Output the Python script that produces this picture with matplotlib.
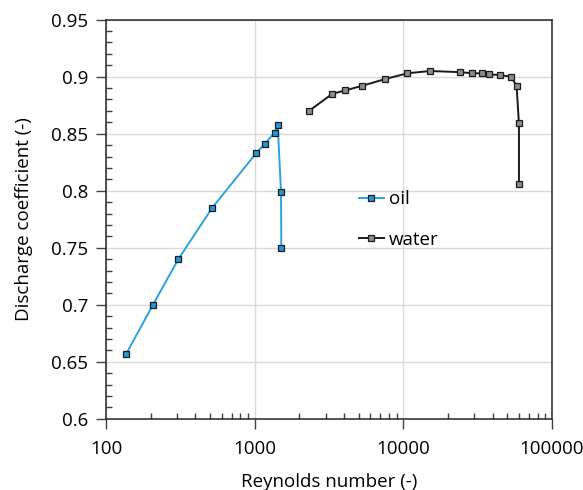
import matplotlib
matplotlib.use('Agg')
import matplotlib.pyplot as plt
from matplotlib.ticker import LogLocator, MultipleLocator, FixedLocator, NullFormatter

plt.rcParams['font.family'] = ['Open Sans', 'DejaVu Sans']

# oil series
oil_re = [137, 207, 307, 518, 1025, 1168, 1364, 1429, 1504, 1511]
oil_cd = [0.657, 0.700, 0.740, 0.785, 0.833, 0.841, 0.851, 0.858, 0.799, 0.750]

# water series
water_re = [2321, 3331, 4075, 5279, 7578, 10656, 15153, 24026, 29061, 33574,
            37650, 44370, 52970, 57750, 59950, 59950]
water_cd = [0.870, 0.885, 0.888, 0.892, 0.898, 0.903, 0.905, 0.904, 0.903, 0.903,
            0.902, 0.9015, 0.900, 0.892, 0.859, 0.806]

x_ticks = [100, 1000, 10000, 100000]
x_ticklabels = ['100', '1000', '10000', '100000']
y_ticks = [0.6, 0.65, 0.7, 0.75, 0.8, 0.85, 0.9, 0.95]
y_ticklabels = ['0.6', '0.65', '0.7', '0.75', '0.8', '0.85', '0.9', '0.95']

fig = plt.figure(figsize=(5.83, 4.9), dpi=100)
ax = fig.add_axes([0.1818, 0.1455, 0.7650, 0.8143])

ax.plot(oil_re, oil_cd, color='#2aa3dc', lw=1.4, marker='s', ms=5,
        mfc='#1e9ad6', mec='#1a1a1a', mew=0.9, label='oil', zorder=3)
ax.plot(water_re, water_cd, color='#1a1a1a', lw=1.4, marker='s', ms=5,
        mfc='#8c8c8c', mec='#1a1a1a', mew=0.9, label='water', zorder=3)

ax.set_xscale('log')
ax.set_xlim(100, 100000)
ax.set_ylim(0.6, 0.95)

ax.xaxis.set_major_locator(FixedLocator(x_ticks))
ax.set_xticklabels(x_ticklabels)
ax.xaxis.set_minor_locator(LogLocator(base=10, subs=range(2, 10)))
ax.xaxis.set_minor_formatter(NullFormatter())
ax.set_yticks(y_ticks)
ax.set_yticklabels(y_ticklabels)
ax.yaxis.set_minor_locator(MultipleLocator(0.01))

ax.grid(True, which='major', color='#d9d9d9', lw=1.0, zorder=0)
ax.set_axisbelow(True)

ax.tick_params(which='major', direction='out', length=7, width=1, color='#404040',
               labelsize=13.5, pad=6)
ax.tick_params(which='minor', direction='in', length=4.5, width=1, color='#404040')
ax.tick_params(axis='x', pad=8)

for s in ax.spines.values():
    s.set_color('#262626')
    s.set_linewidth(1.1)

ax.set_xlabel('Reynolds number (-)', fontsize=13.5, labelpad=11)
ax.set_ylabel('Discharge coefficient (-)', fontsize=13.5, labelpad=13)

ax.legend(loc='upper left', bbox_to_anchor=(0.53, 0.615), frameon=False,
          fontsize=13.5, handlelength=1.3, handletextpad=0.3, labelspacing=1.2)

fig.savefig('out.png', dpi=100)
